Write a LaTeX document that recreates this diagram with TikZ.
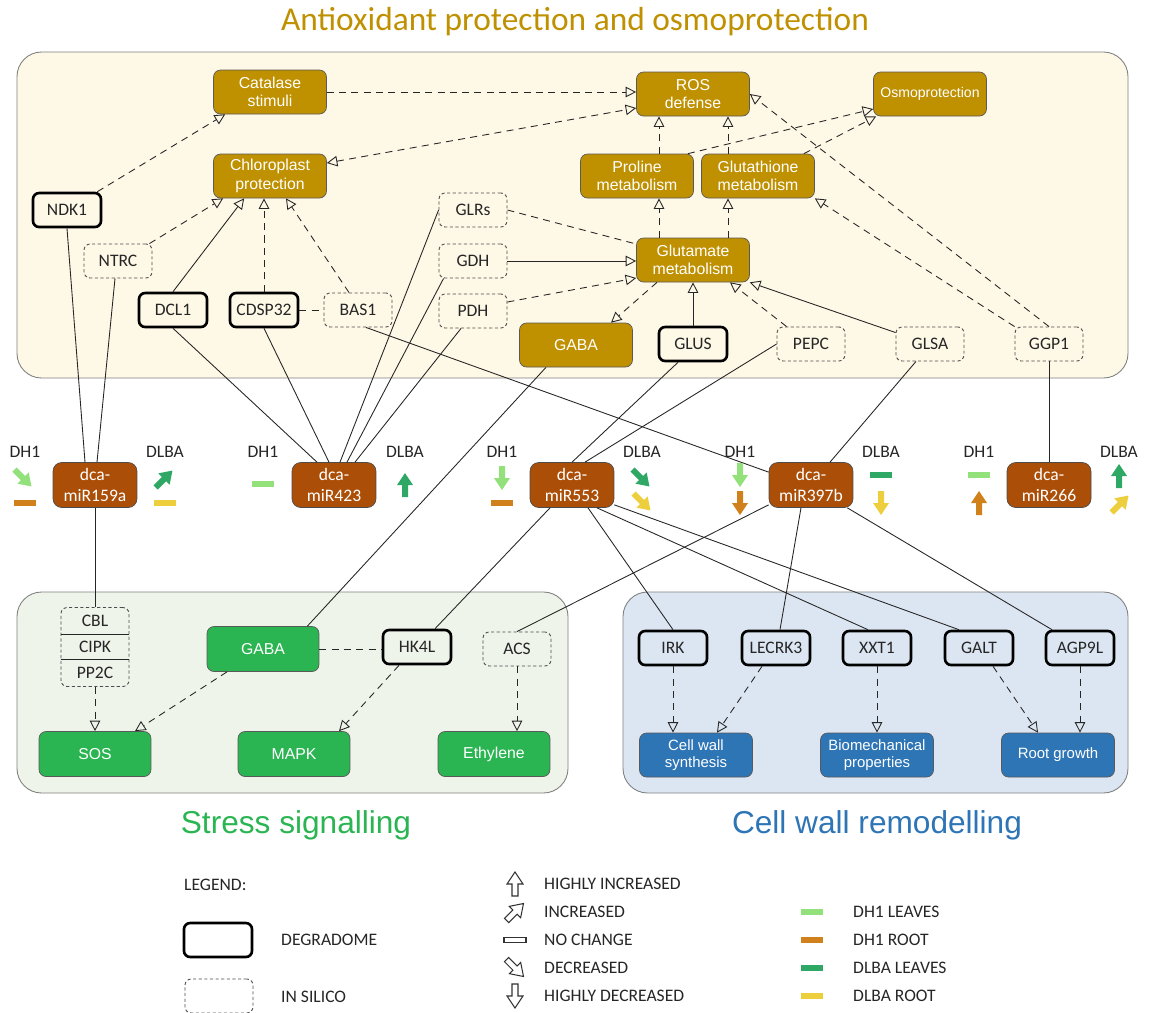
\documentclass[tikz,border=0pt]{standalone}
\usepackage{fontspec}
\setmainfont{Carlito}
\newfontfamily\arialf{Liberation Sans}
\usetikzlibrary{arrows.meta}
\definecolor{gold}{HTML}{BF9000}
\definecolor{mirbrown}{HTML}{AB4F08}
\definecolor{sigreen}{HTML}{2BB552}
\definecolor{wallblue}{HTML}{2E75B6}
\definecolor{panelA}{HTML}{FEF8E6}
\definecolor{panelB}{HTML}{EFF4EA}
\definecolor{panelC}{HTML}{DCE6F2}
\definecolor{dhleaf}{HTML}{93E17B}
\definecolor{dhroot}{HTML}{D0811C}
\definecolor{dlbaleaf}{HTML}{2FA866}
\definecolor{dlbaroot}{HTML}{EDCF3E}
\tikzset{
  >={Triangle[open,length=6pt,width=6pt]},
  proc/.style={rectangle, rounded corners=4pt, draw=black!65, text=white, align=center,
    font=\arialf\fontsize{9}{10.5}\selectfont, minimum width=2.26cm, minimum height=0.88cm, inner sep=1pt},
  antiox/.style={proc, fill=gold},
  signal/.style={proc, fill=sigreen, minimum width=2.24cm, minimum height=0.9cm},
  wall/.style={proc, fill=wallblue, font=\arialf\fontsize{8.5}{10}\selectfont},
  gene/.style={rectangle, rounded corners=3.5pt, minimum width=1.36cm, minimum height=0.68cm,
    inner sep=1pt, text=black!85, font=\fontsize{10}{12}\selectfont},
  degr/.style={gene, draw=black, line width=1.5pt},
  insil/.style={gene, draw=black!70, line width=0.5pt, dash pattern=on 1.8pt off 1.4pt},
  mir/.style={rectangle, rounded corners=5pt, fill=mirbrown, draw=black!70, text=white, align=center,
    minimum width=1.68cm, minimum height=0.9cm, inner sep=0pt, font=\fontsize{10}{11.5}\selectfont},
  panel/.style={draw=black!50, line width=0.5pt, rounded corners=14pt},
  link/.style={draw=black!85, line width=0.5pt},
  dline/.style={link, dash pattern=on 4pt off 3pt},
  lab/.style={text=black!85, font=\fontsize{10}{12}\selectfont},
  fcarrow/.pic={\path[pic actions] (-3,12) -- (3,12) -- (3,0) -- (8,0) -- (0,-12) -- (-8,0) -- (-3,0) -- cycle;},
  fcbar/.pic={\path[pic actions] (-11,-3) rectangle (11,3);}
}
\begin{document}
\begin{tikzpicture}[x=0.02cm,y=-0.02cm]
\useasboundingbox (0,0) rectangle (1150,1012);
\path[panel, fill=panelA] (17,52) rectangle (1128,378);
\path[panel, fill=panelB] (17,592) rectangle (568,793);
\path[panel, fill=panelC] (623,592) rectangle (1128,793);
\node[text=gold, font=\fontsize{19}{22}\selectfont] (ttlA) at (575,22) {Antioxidant protection and osmoprotection};
\node[text=sigreen, font=\arialf\fontsize{18}{21}\selectfont] (ttlB) at (296,825) {Stress signalling};
\node[text=wallblue, font=\arialf\fontsize{18}{21}\selectfont] (ttlC) at (877,825) {Cell wall remodelling};

\node[antiox] (cat) at (270,92) {Catalase\\stimuli};
\node[antiox] (ros) at (693,94) {ROS\\defense};
\node[antiox, font=\arialf\fontsize{8}{10}\selectfont] (osmo) at (930,94) {Osmoprotection};
\node[antiox] (chl) at (270,176) {Chloroplast\\protection};
\node[antiox] (pro) at (637,176) {Proline\\metabolism};
\node[antiox] (gsh) at (758,176) {Glutathione\\metabolism};
\node[antiox] (glu) at (693,260) {Glutamate\\metabolism};
\node[antiox] (gabaA) at (576,345) {GABA};
\node[degr] (ndk) at (67,210) {NDK1};
\node[insil] (ntrc) at (118,261) {NTRC};
\node[degr] (dcl) at (173,310) {DCL1};
\node[degr] (cdsp) at (264,310) {CDSP32};
\node[insil] (bas) at (358,310) {BAS1};
\node[insil] (glr) at (473,210) {GLRs};
\node[insil] (gdh) at (473,261) {GDH};
\node[insil] (pdh) at (473,311) {PDH};
\node[degr] (glus) at (693,344) {GLUS};
\node[insil] (pepc) at (811,344) {PEPC};
\node[insil] (glsa) at (930,344) {GLSA};
\node[insil] (ggp) at (1049,344) {GGP1};

\node[mir] (m159) at (95,485) {dca-\\miR159a};
\node[mir] (m423) at (334,485) {dca-\\miR423};
\node[mir] (m553) at (572,485) {dca-\\miR553};
\node[mir] (m397) at (811,485) {dca-\\miR397b};
\node[mir] (m266) at (1049,485) {dca-\\miR266};

\node[insil, minimum height=1.58cm, font=\fontsize{10}{14.7}\selectfont, align=center] (cbl) at (95,647) {CBL\\CIPK\\PP2C};
\node[signal] (gabaB) at (263,649) {GABA};
\node[degr] (hk) at (417,647) {HK4L};
\node[insil] (acs) at (517,649) {ACS};
\node[signal] (sos) at (95,754) {SOS};
\node[signal] (mapk) at (294,754) {MAPK};
\node[signal] (eth) at (494,754) {Ethylene};
\node[degr] (irk) at (673,648) {IRK};
\node[degr] (lec) at (776,648) {LECRK3};
\node[degr] (xxt) at (877,648) {XXT1};
\node[degr] (galt) at (979,648) {GALT};
\node[degr] (agp) at (1080,648) {AGP9L};
\node[wall] (cws) at (696,755) {Cell wall\\synthesis};
\node[wall] (bio) at (877,755) {Biomechanical\\properties};
\node[wall] (root) at (1058,755) {Root growth};
\draw[link] ([yshift=0.25cm]cbl.west) -- ([yshift=0.25cm]cbl.east);
\draw[link] ([yshift=-0.25cm]cbl.west) -- ([yshift=-0.25cm]cbl.east);

\draw[dline,->] ([xshift=-0.1cm]ndk.north east) -- ([xshift=0.24cm]cat.south west);
\draw[dline,->] ([xshift=-0.06cm]ntrc.north east) -- ([xshift=0.2cm]chl.south west);
\draw[link,->] (dcl.north) -- ([xshift=0.62cm]chl.south west);
\draw[dline,->] (cdsp.north) -- (cdsp.north |- chl.south);
\draw[dline,->] ([xshift=-0.18cm]bas.north) -- ([xshift=0.32cm]chl.south);
\draw[dline] (cdsp.east) -- (bas.west);
\draw[dline,->] (cat.east) -- (cat.east -| ros.west);
\draw[dline,<->] ([yshift=0.26cm]chl.east) -- ([yshift=-0.28cm]ros.west);
\draw[dline,->] ([xshift=0.44cm]pro.north) -- ([xshift=0.44cm]pro.north |- ros.south);
\draw[dline,->] ([xshift=-0.6cm]gsh.north) -- ([xshift=-0.6cm]gsh.north |- ros.south);
\draw[dline,->] ([xshift=-0.12cm]pro.north east) -- ([yshift=-0.3cm]osmo.west);
\draw[dline,->] ([xshift=-0.22cm]gsh.north east) -- ([xshift=0.06cm]osmo.south west);
\draw[dline,->] ([xshift=-0.68cm]glu.north) -- ([xshift=-0.68cm]glu.north |- pro.south);
\draw[dline,->] ([xshift=0.7cm]glu.north) -- ([xshift=0.7cm]glu.north |- gsh.south);
\draw[dline] (glr.east) -- ([yshift=0.32cm]glu.west);
\draw[link,->] (gdh.east) -- (gdh.east -| glu.west);
\draw[dline,->] ([yshift=0.18cm]pdh.east) -- ([yshift=-0.36cm]glu.west);
\draw[dline,->] ([xshift=-0.72cm]glu.south) -- ([xshift=0.7cm]gabaA.north);
\draw[link,->] (glus.north) -- (glus.north |- glu.south);
\draw[dline,->] ([xshift=0.2cm]pepc.north west) -- ([xshift=0.74cm]glu.south);
\draw[link,->] ([yshift=-0.12cm]glsa.north west) -- (glu.south east);
\draw[dline,->] (ggp.north west) -- (gsh.south east);
\draw[dline,->] (ggp.north) -- (ros.east);

\draw[link] (ndk.south) -- ([xshift=-0.2cm]m159.north);
\draw[link] ([xshift=-0.06cm]ntrc.south) -- ([xshift=0.04cm]m159.north);
\draw[link] (m159.south) -- (cbl.north);
\draw[link] (dcl.south) -- ([xshift=-0.34cm]m423.north);
\draw[link] (cdsp.south) -- ([xshift=-0.1cm]m423.north);
\draw[link] (glr.west) -- ([xshift=0.12cm]m423.north);
\draw[link] ([xshift=0.1cm]gdh.south west) -- ([xshift=0.26cm]m423.north);
\draw[link] ([xshift=-0.24cm]pdh.south) -- ([xshift=0.42cm]m423.north);
\draw[link] ([xshift=0.16cm]bas.south) -- ([yshift=-0.2cm]m397.north west);
\draw[link] ([xshift=-0.6cm]gabaA.south) -- ([xshift=-0.24cm]gabaB.north east);
\draw[link] ([xshift=-0.3cm]glus.south) -- (m553.north);
\draw[link] (pepc.west) -- ([xshift=0.26cm]m553.north);
\draw[link] ([xshift=-0.28cm]glsa.south) -- ([xshift=0.38cm]m397.north);
\draw[link] (ggp.south) -- (m266.north);
\draw[link] ([xshift=-0.44cm]m553.south) -- ([xshift=0.36cm]hk.north);
\draw[link] ([yshift=0.06cm]m397.south west) -- (acs.north);
\draw[link] ([xshift=0.32cm]m553.south) -- (irk.north);
\draw[link] ([xshift=0.5cm]m553.south) -- ([xshift=-0.18cm]xxt.north);
\draw[link] ([yshift=0.06cm]m553.south east) -- ([xshift=-0.4cm]galt.north);
\draw[link] ([xshift=-0.2cm]m397.south) -- ([xshift=0.08cm]lec.north);
\draw[link] ([xshift=-0.12cm]m397.south east) -- ([xshift=-0.56cm]agp.north);

\draw[dline,->] (cbl.south) -- (cbl.south |- sos.north);
\draw[dline,->] ([xshift=-0.72cm]gabaB.south) -- ([xshift=0.8cm]sos.north);
\draw[dline] (gabaB.east) -- (gabaB.east -| hk.west);
\draw[dline,->] ([xshift=-0.36cm]hk.south) -- ([xshift=0.9cm]mapk.north);
\draw[dline,->] (acs.south) -- (acs.south |- eth.north);
\draw[dline,->] (irk.south) -- (irk.south |- cws.north);
\draw[dline,->] ([xshift=-0.28cm]lec.south) -- ([xshift=0.42cm]cws.north);
\draw[dline,->] (xxt.south) -- (xxt.south |- bio.north);
\draw[dline,->] ([xshift=0.28cm]galt.south) -- ([xshift=-0.4cm]root.north);
\draw[dline,->] (agp.south) -- (agp.south |- root.north);

\foreach \x/\t in {25/DH1,165/DLBA,263/DH1,405/DLBA,502/DH1,642/DLBA,740/DH1,881/DLBA,979/DH1,1119/DLBA}
  \node[lab] at (\x,452) {\t};
\path (23,478) pic[rotate=-135, fill=dhleaf] {fcarrow};
\path (25,503) pic[fill=dhroot] {fcbar};
\path (164,479) pic[rotate=-45, fill=dlbaleaf] {fcarrow};
\path (165,503) pic[fill=dlbaroot] {fcbar};
\path (263,484) pic[fill=dhleaf] {fcbar};
\path (405,485) pic[fill=dlbaleaf] {fcarrow};
\path (502,478) pic[rotate=180, fill=dhleaf] {fcarrow};
\path (502,503) pic[fill=dhroot] {fcbar};
\path (641,478) pic[rotate=-135, fill=dlbaleaf] {fcarrow};
\path (642,502) pic[rotate=-135, fill=dlbaroot] {fcarrow};
\path (740,475) pic[rotate=180, fill=dhleaf] {fcarrow};
\path (740,503) pic[rotate=180, fill=dhroot] {fcarrow};
\path (881,475) pic[fill=dlbaleaf] {fcbar};
\path (881,503) pic[rotate=180, fill=dlbaroot] {fcarrow};
\path (979,475) pic[fill=dhleaf] {fcbar};
\path (979,503) pic[fill=dhroot] {fcarrow};
\path (1119,476) pic[fill=dlbaleaf] {fcarrow};
\path (1120,504) pic[rotate=-45, fill=dlbaroot] {fcarrow};

\node[lab, anchor=west] (lgd) at (178,885) {LEGEND:};
\node[degr] (lgdeg) at (218,940) {};
\node[lab, anchor=west] at (275,940) {DEGRADOME};
\node[insil] (lgsil) at (219,996) {};
\node[lab, anchor=west] at (275,997) {IN SILICO};
\path (515,884) pic[draw=black!80, fill=white, line width=0.6pt] {fcarrow};
\path (515,912) pic[rotate=-45, draw=black!80, fill=white, line width=0.6pt] {fcarrow};
\path (515,940) pic[draw=black!80, fill=white, line width=0.6pt, yscale=0.85] {fcbar};
\path (515,968) pic[rotate=-135, draw=black!80, fill=white, line width=0.6pt] {fcarrow};
\path (515,996) pic[rotate=180, draw=black!80, fill=white, line width=0.6pt] {fcarrow};
\foreach \y/\t in {884/HIGHLY INCREASED,912/INCREASED,940/NO CHANGE,968/DECREASED,996/HIGHLY DECREASED}
  \node[lab, anchor=west] at (538,\y) {\t};
\foreach \y/\c/\t in {912/dhleaf/DH1 LEAVES,940/dhroot/DH1 ROOT,968/dlbaleaf/DLBA LEAVES,996/dlbaroot/DLBA ROOT}{
  \path (812,\y) pic[fill=\c] {fcbar};
  \node[lab, anchor=west] at (847,\y) {\t};
}
\end{tikzpicture}
\end{document}
